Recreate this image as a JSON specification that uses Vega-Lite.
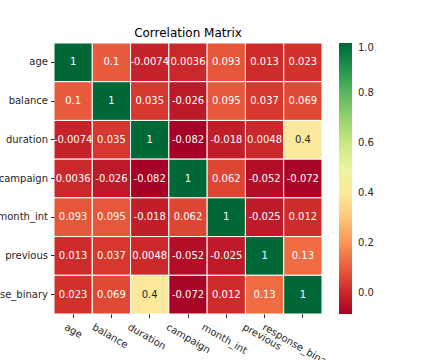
{
  "$schema": "https://vega.github.io/schema/vega-lite/v6.json",
  "autosize": {"type": "none"},
  "padding": {"left": 54, "top": 43, "right": 110, "bottom": 46},
  "width": 268,
  "height": 271,
  "background": "white",
  "config": {"font": "DejaVu Sans", "view": {"stroke": null},
    "locale": {"number": {"decimal": ".", "thousands": ",", "grouping": [3], "currency": ["$", ""], "minus": "-"}}},
  "title": {"text": "Correlation Matrix", "fontSize": 12, "fontWeight": "normal", "color": "black", "font": "DejaVu Sans", "offset": 3},
  "data": {"values": [
    {"row": "age", "col": "age", "r": 1},
    {"row": "age", "col": "balance", "r": 0.1},
    {"row": "age", "col": "duration", "r": -0.0074},
    {"row": "age", "col": "campaign", "r": 0.0036},
    {"row": "age", "col": "month_int", "r": 0.093},
    {"row": "age", "col": "previous", "r": 0.013},
    {"row": "age", "col": "response_binary", "r": 0.023},
    {"row": "balance", "col": "age", "r": 0.1},
    {"row": "balance", "col": "balance", "r": 1},
    {"row": "balance", "col": "duration", "r": 0.035},
    {"row": "balance", "col": "campaign", "r": -0.026},
    {"row": "balance", "col": "month_int", "r": 0.095},
    {"row": "balance", "col": "previous", "r": 0.037},
    {"row": "balance", "col": "response_binary", "r": 0.069},
    {"row": "duration", "col": "age", "r": -0.0074},
    {"row": "duration", "col": "balance", "r": 0.035},
    {"row": "duration", "col": "duration", "r": 1},
    {"row": "duration", "col": "campaign", "r": -0.082},
    {"row": "duration", "col": "month_int", "r": -0.018},
    {"row": "duration", "col": "previous", "r": 0.0048},
    {"row": "duration", "col": "response_binary", "r": 0.4},
    {"row": "campaign", "col": "age", "r": 0.0036},
    {"row": "campaign", "col": "balance", "r": -0.026},
    {"row": "campaign", "col": "duration", "r": -0.082},
    {"row": "campaign", "col": "campaign", "r": 1},
    {"row": "campaign", "col": "month_int", "r": 0.062},
    {"row": "campaign", "col": "previous", "r": -0.052},
    {"row": "campaign", "col": "response_binary", "r": -0.072},
    {"row": "month_int", "col": "age", "r": 0.093},
    {"row": "month_int", "col": "balance", "r": 0.095},
    {"row": "month_int", "col": "duration", "r": -0.018},
    {"row": "month_int", "col": "campaign", "r": 0.062},
    {"row": "month_int", "col": "month_int", "r": 1},
    {"row": "month_int", "col": "previous", "r": -0.025},
    {"row": "month_int", "col": "response_binary", "r": 0.012},
    {"row": "previous", "col": "age", "r": 0.013},
    {"row": "previous", "col": "balance", "r": 0.037},
    {"row": "previous", "col": "duration", "r": 0.0048},
    {"row": "previous", "col": "campaign", "r": -0.052},
    {"row": "previous", "col": "month_int", "r": -0.025},
    {"row": "previous", "col": "previous", "r": 1},
    {"row": "previous", "col": "response_binary", "r": 0.13},
    {"row": "response_binary", "col": "age", "r": 0.023},
    {"row": "response_binary", "col": "balance", "r": 0.069},
    {"row": "response_binary", "col": "duration", "r": 0.4},
    {"row": "response_binary", "col": "campaign", "r": -0.072},
    {"row": "response_binary", "col": "month_int", "r": 0.012},
    {"row": "response_binary", "col": "previous", "r": 0.13},
    {"row": "response_binary", "col": "response_binary", "r": 1}
  ]},
  "encoding": {
    "x": {"field": "col", "type": "nominal", "sort": ["age","balance","duration","campaign","month_int","previous","response_binary"],
      "scale": {"paddingInner": 0, "paddingOuter": 0},
      "axis": {"title": null, "domain": false, "labelAngle": 30, "labelAlign": "left", "labelBaseline": "top", "labelFontSize": 10, "labelColor": "#262626", "tickColor": "#262626", "tickSize": 3.5, "labelPadding": 4, "labelFont": "DejaVu Sans",
        "labelOffset": {"expr": "2.5 - 2.64 * length(datum.label)"}}},
    "y": {"field": "row", "type": "nominal", "sort": ["age","balance","duration","campaign","month_int","previous","response_binary"],
      "scale": {"paddingInner": 0, "paddingOuter": 0},
      "axis": {"title": null, "domain": false, "labelFontSize": 10, "labelColor": "#262626", "tickColor": "#262626", "tickSize": 3.5, "labelPadding": 3, "labelFont": "DejaVu Sans"}}
  },
  "layer": [
    {
      "mark": {"type": "rect", "stroke": "white", "strokeWidth": 1},
      "encoding": {
        "color": {"field": "r", "type": "quantitative",
          "scale": {"scheme": "redyellowgreen", "domain": [-0.082, 1]},
          "legend": {"title": null, "orient": "right", "offset": 17, "gradientLength": 271, "gradientThickness": 13, "values": [0, 0.2, 0.4, 0.6, 0.8, 1.0], "format": ".1f", "labelFontSize": 10, "labelColor": "#262626", "labelFont": "DejaVu Sans", "gradientStrokeWidth": 0, "labelOffset": 6, "padding": 0}
        }
      }
    },
    {
      "mark": {"type": "text", "fontSize": 10, "font": "DejaVu Sans"},
      "encoding": {
        "text": {"field": "r", "type": "quantitative", "format": ".2~g"},
        "color": {"condition": {"test": "datum.r > 0.25 && datum.r < 0.85", "value": "#262626"}, "value": "white"}
      }
    }
  ]
}
